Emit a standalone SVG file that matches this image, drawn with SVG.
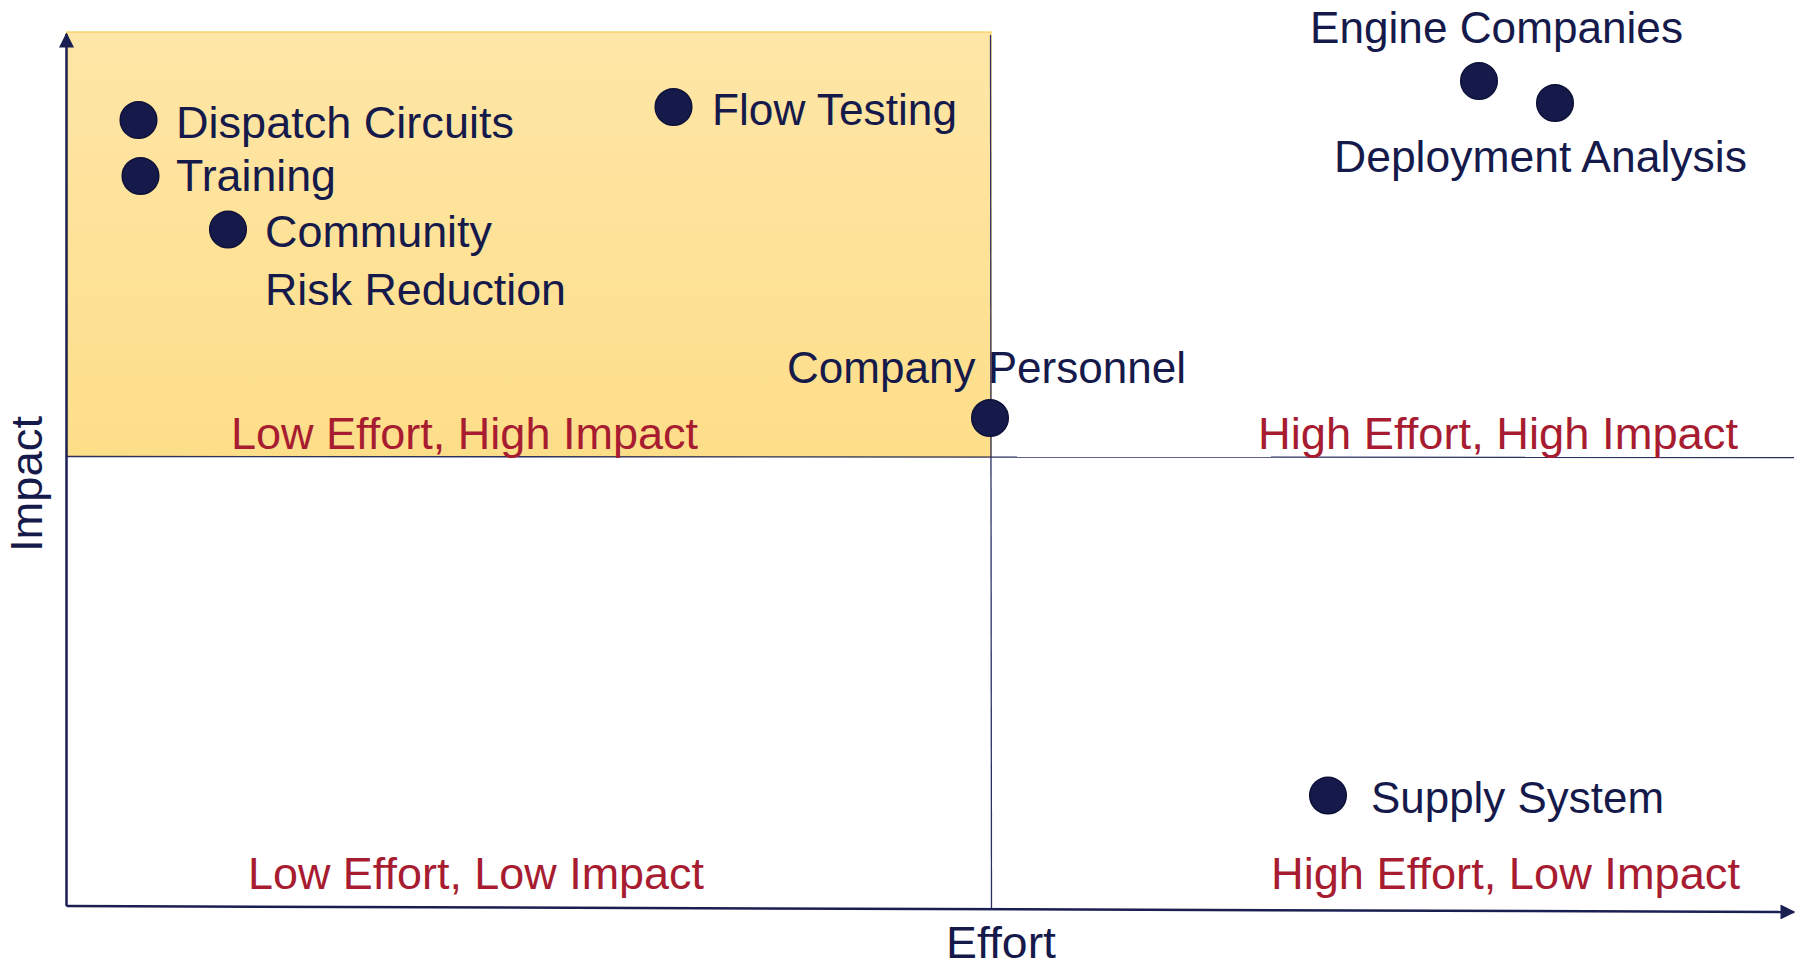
<svg xmlns="http://www.w3.org/2000/svg" width="1803" height="968" viewBox="0 0 1803 968">
  <style>
    text { font-family: "Liberation Sans", Arial, sans-serif; font-size: 44px; }
    .item { fill: #151A4B; }
    .quad { fill: #A81C31; }
    .axis-label { fill: #151A4B; }
    .dot { fill: #151A4B; stroke: #0E1238; stroke-width: 1.5; }
    .axis { stroke: #1A1F52; stroke-width: 2.5; fill: none; }
    .divider { stroke: #2B3060; stroke-width: 1.3; fill: none; }
  </style>
  <defs>
    <linearGradient id="quickWins" x1="0" y1="0" x2="0" y2="1">
      <stop offset="0" stop-color="#FEE6A7"/>
      <stop offset="1" stop-color="#FDDE89"/>
    </linearGradient>
    <marker id="arrow" viewBox="0 0 10 10" refX="9" refY="5" markerWidth="6" markerHeight="6" markerUnits="strokeWidth" orient="auto">
      <path d="M0,0 L10,5 L0,10 Z" fill="#1A1F52"/>
    </marker>
  </defs>

  <!-- highlighted quadrant: low effort, high impact -->
  <rect id="quadrant-highlight" x="66.5" y="32" width="924.5" height="424.5" fill="url(#quickWins)" stroke="#F4CF55" stroke-width="1.2"/>

  <!-- axes and quadrant dividers -->
  <g id="connectors">
    <line class="divider" x1="990.5" y1="35" x2="991.5" y2="909"/>
    <line class="divider" x1="66.5" y1="456.5" x2="1794" y2="457.5"/>
    <line class="axis" x1="66.5" y1="906" x2="66.5" y2="34" marker-end="url(#arrow)"/>
    <line class="axis" x1="66.5" y1="906" x2="1794" y2="912" marker-end="url(#arrow)"/>
  </g>

  <!-- axis titles -->
  <g id="axis-effort"><text class="axis-label" x="946" y="958" font-size="42" textLength="110" lengthAdjust="spacingAndGlyphs">Effort</text></g>
  <g id="axis-impact"><text class="axis-label" transform="translate(42,552) rotate(-90)" x="0" y="0" textLength="136" lengthAdjust="spacingAndGlyphs">Impact</text></g>

  <!-- quadrant captions -->
  <g id="quadrant-labels">
    <text class="quad" x="231" y="449" textLength="467" lengthAdjust="spacingAndGlyphs">Low Effort, High Impact</text>
    <text class="quad" x="1258" y="449" textLength="480" lengthAdjust="spacingAndGlyphs">High Effort, High Impact</text>
    <text class="quad" x="248" y="889" textLength="456" lengthAdjust="spacingAndGlyphs">Low Effort, Low Impact</text>
    <text class="quad" x="1271" y="889" textLength="469" lengthAdjust="spacingAndGlyphs">High Effort, Low Impact</text>
  </g>

  <!-- plotted initiatives -->
  <g id="dispatch-circuits">
    <circle class="dot" cx="138.5" cy="120" r="18.3"/>
    <text class="item" x="176" y="138" textLength="338" lengthAdjust="spacingAndGlyphs">Dispatch Circuits</text>
  </g>
  <g id="training">
    <circle class="dot" cx="140.5" cy="176" r="18.3"/>
    <text class="item" x="176" y="191" textLength="160" lengthAdjust="spacingAndGlyphs">Training</text>
  </g>
  <g id="community-risk-reduction">
    <circle class="dot" cx="228" cy="229.5" r="18.3"/>
    <text class="item" x="265" y="247" textLength="227" lengthAdjust="spacingAndGlyphs">Community</text>
    <text class="item" x="265" y="305" textLength="301" lengthAdjust="spacingAndGlyphs">Risk Reduction</text>
  </g>
  <g id="flow-testing">
    <circle class="dot" cx="673.5" cy="107" r="18.3"/>
    <text class="item" x="712" y="125" textLength="245" lengthAdjust="spacingAndGlyphs">Flow Testing</text>
  </g>
  <g id="company-personnel">
    <text class="item" x="787" y="383" textLength="399" lengthAdjust="spacingAndGlyphs">Company Personnel</text>
    <circle class="dot" cx="990" cy="418" r="18.3"/>
  </g>
  <g id="engine-companies">
    <text class="item" x="1310" y="43" textLength="373" lengthAdjust="spacingAndGlyphs">Engine Companies</text>
    <circle class="dot" cx="1479" cy="81" r="18.3"/>
  </g>
  <g id="deployment-analysis">
    <circle class="dot" cx="1555" cy="103" r="18.3"/>
    <text class="item" x="1334" y="172" textLength="413" lengthAdjust="spacingAndGlyphs">Deployment Analysis</text>
  </g>
  <g id="supply-system">
    <circle class="dot" cx="1328" cy="795.5" r="18.3"/>
    <text class="item" x="1371" y="813" textLength="293" lengthAdjust="spacingAndGlyphs">Supply System</text>
  </g>
</svg>
